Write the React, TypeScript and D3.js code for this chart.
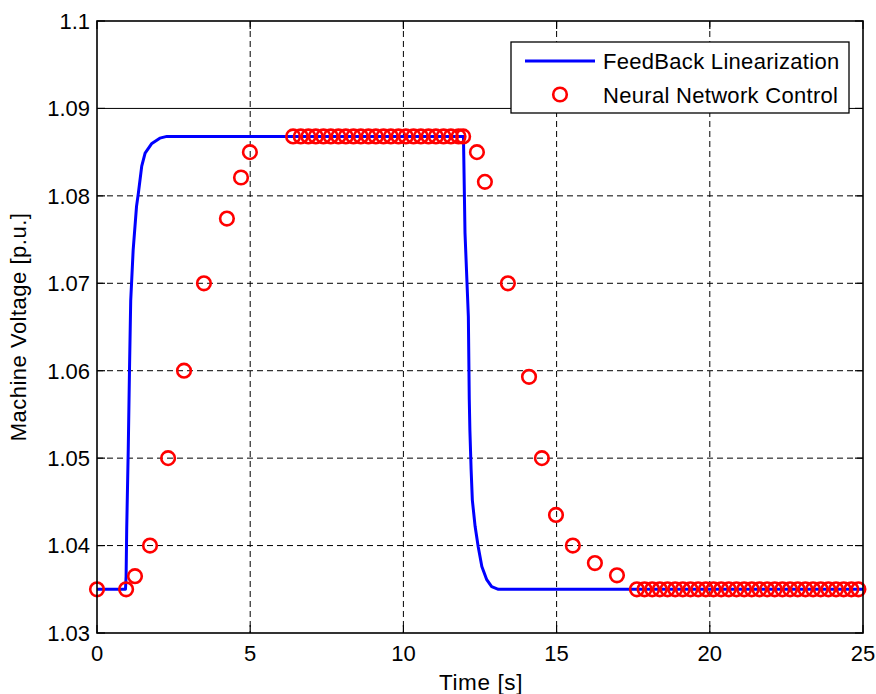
import React from "react";
import * as d3 from "d3";

const xTicks = [0, 5, 10, 15, 20, 25];
const yTicks = [1.03, 1.04, 1.05, 1.06, 1.07, 1.08, 1.09, 1.1];
const yTickLabels = ["1.03", "1.04", "1.05", "1.06", "1.07", "1.08", "1.09", "1.1"];

// FeedBack Linearization
const fbTime = [0, 0.93, 0.95, 0.97, 1.02, 1.06, 1.1, 1.18, 1.29, 1.35, 1.46, 1.57, 1.79, 2.05, 2.28, 11.96, 12.01, 12.12, 12.15, 12.17, 12.21, 12.25, 12.34, 12.44, 12.56, 12.72, 12.88, 13.1, 25];
const fbVolt = [1.035, 1.035, 1.0365, 1.042, 1.051, 1.06, 1.068, 1.0738, 1.0788, 1.0803, 1.0834, 1.0849, 1.086, 1.0866, 1.0868, 1.0868, 1.0758, 1.0662, 1.0567, 1.0532, 1.0487, 1.0452, 1.0422, 1.0399, 1.0376, 1.0361, 1.0353, 1.035, 1.035];

// Neural Network Control
const nnTime = [0, 0.95, 1.24, 1.73, 2.32, 2.84, 3.49, 4.24, 4.7, 4.99,
  6.4, 6.65, 6.9, 7.14, 7.39, 7.63, 7.88, 8.12, 8.37, 8.61, 8.86, 9.1, 9.35, 9.59, 9.84, 10.08, 10.33, 10.57, 10.82, 11.06, 11.31, 11.55, 11.8, 11.95,
  12.4, 12.66, 13.41, 14.1, 14.52, 14.98, 15.53, 16.25, 16.97,
  17.62, 17.87, 18.12, 18.37, 18.62, 18.87, 19.12, 19.37, 19.62, 19.87, 20.12, 20.37, 20.62, 20.87, 21.12, 21.37, 21.62, 21.87, 22.12, 22.37, 22.62, 22.87, 23.12, 23.37, 23.62, 23.87, 24.12, 24.37, 24.62, 24.85, 25.0];
const nnVolt = [1.035, 1.035, 1.0365, 1.04, 1.05, 1.06, 1.07, 1.0774, 1.0821, 1.085,
  1.0868, 1.0868, 1.0868, 1.0868, 1.0868, 1.0868, 1.0868, 1.0868, 1.0868, 1.0868, 1.0868, 1.0868, 1.0868, 1.0868, 1.0868, 1.0868, 1.0868, 1.0868, 1.0868, 1.0868, 1.0868, 1.0868, 1.0868, 1.0868,
  1.085, 1.0816, 1.07, 1.0593, 1.05, 1.0435, 1.04, 1.038, 1.0366,
  1.035, 1.035, 1.035, 1.035, 1.035, 1.035, 1.035, 1.035, 1.035, 1.035, 1.035, 1.035, 1.035, 1.035, 1.035, 1.035, 1.035, 1.035, 1.035, 1.035, 1.035, 1.035, 1.035, 1.035, 1.035, 1.035, 1.035, 1.035, 1.035, 1.035];

const seriesNames = ["FeedBack Linearization", "Neural Network Control"];

const W = 876, H = 694;
const L = 97, R = 863, T = 21, B = 633;
const FONT = "'Liberation Sans', Arial, Helvetica, sans-serif";

export default function App() {
  const x = d3.scaleLinear().domain([0, 25]).range([L, R]);
  const y = d3.scaleLinear().domain([1.03, 1.1]).range([B, T]);
  const line = d3.line<number>().x((_, i) => x(fbTime[i])).y((d) => y(d));
  const fbPath = line(fbVolt) || "";
  const tickLen = 8;

  return (
    <svg width={W} height={H} style={{ position: "absolute", left: 0, top: 0, background: "#fff" }} fontFamily={FONT}>
      <rect x={0} y={0} width={W} height={H} fill="#fff" />
      {/* grid */}
      {xTicks.filter((t) => t > 0 && t < 25).map((t) => (
        <line key={"gx" + t} x1={x(t)} x2={x(t)} y1={T} y2={B} stroke="#000" strokeWidth={1} strokeDasharray="6,4" />
      ))}
      {yTicks.filter((t) => t > 1.03 && t < 1.1).map((t) => (
        <line key={"gy" + t} x1={L} x2={R} y1={y(t)} y2={y(t)} stroke="#000" strokeWidth={1}
          strokeDasharray={Math.abs(t - 1.09) < 1e-9 ? undefined : "6,4"} />
      ))}
      {/* ticks */}
      {xTicks.map((t) => (
        <g key={"tx" + t}>
          <line x1={x(t)} x2={x(t)} y1={B} y2={B - tickLen} stroke="#000" strokeWidth={1.2} />
          <line x1={x(t)} x2={x(t)} y1={T} y2={T + tickLen} stroke="#000" strokeWidth={1.2} />
          <text x={x(t)} y={661} fontSize={22} textAnchor="middle" fill="#000">{t}</text>
        </g>
      ))}
      {yTicks.map((t, i) => (
        <g key={"ty" + t}>
          <line x1={L} x2={L + tickLen} y1={y(t)} y2={y(t)} stroke="#000" strokeWidth={1.2} />
          <line x1={R} x2={R - tickLen} y1={y(t)} y2={y(t)} stroke="#000" strokeWidth={1.2} />
          <text x={90} y={y(t)} dy="0.36em" fontSize={22} textAnchor="end" fill="#000">{yTickLabels[i]}</text>
        </g>
      ))}
      {/* series */}
      <path d={fbPath} fill="none" stroke="#0000ff" strokeWidth={3} strokeLinejoin="round" />
      {nnVolt.map((v, i) => (
        <circle key={"m" + i} cx={x(nnTime[i])} cy={y(v)} r={6.8} fill="none" stroke="#ff0000" strokeWidth={2.6} />
      ))}
      {/* axes box */}
      <rect x={L} y={T} width={R - L} height={B - T} fill="none" stroke="#000" strokeWidth={1.6} />
      {/* labels */}
      <text x={481} y={690} fontSize={22.5} letterSpacing={0.6} textAnchor="middle" fill="#000">Time [s]</text>
      <text transform={`translate(26,${(T + B) / 2}) rotate(-90)`} fontSize={22} letterSpacing={0.5} textAnchor="middle" fill="#000">Machine Voltage [p.u.]</text>
      {/* legend */}
      <rect x={511} y={42} width={338} height={71} fill="#fff" stroke="#000" strokeWidth={1.3} />
      <line x1={525} x2={595} y1={61} y2={61} stroke="#0000ff" strokeWidth={3} />
      <text x={603} y={69} fontSize={22} letterSpacing={0.3} fill="#000">{seriesNames[0]}</text>
      <circle cx={560} cy={94.5} r={6.8} fill="none" stroke="#ff0000" strokeWidth={2.6} />
      <text x={603} y={102.5} fontSize={22} letterSpacing={0.3} fill="#000">{seriesNames[1]}</text>
    </svg>
  );
}
